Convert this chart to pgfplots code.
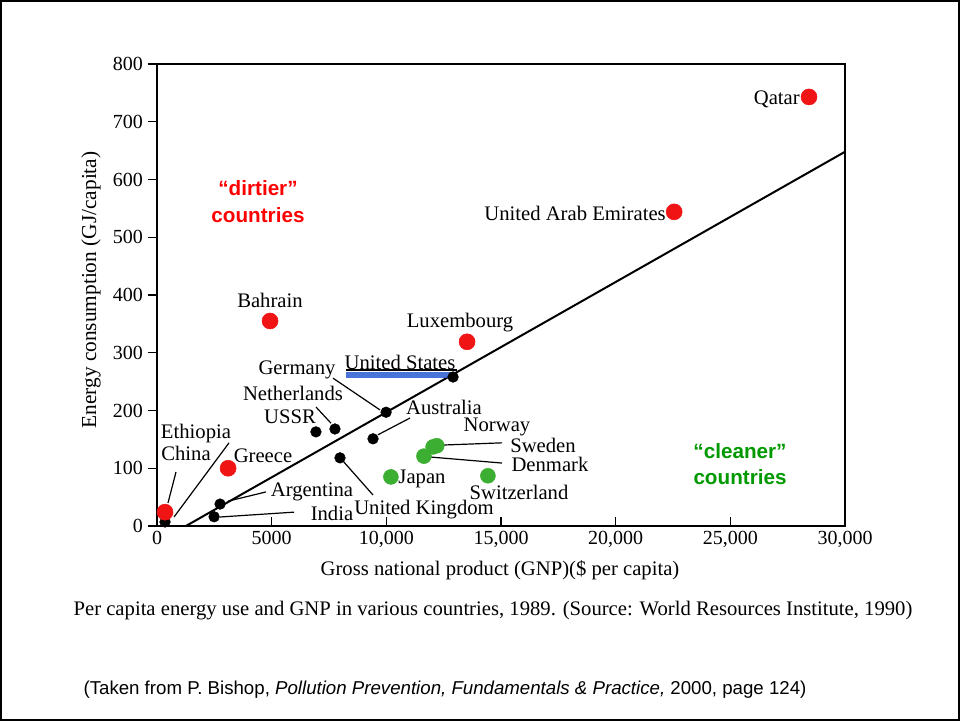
\documentclass[border=0pt]{standalone}
\usepackage{pgfplots}
\pgfplotsset{compat=1.18}
\usepackage{fontspec}
\setmainfont{Liberation Serif}
\newfontfamily\arial{Liberation Sans}
\definecolor{dotred}{RGB}{240,20,20}
\definecolor{dotgreen}{RGB}{60,175,50}
\definecolor{txtred}{RGB}{255,0,0}
\definecolor{txtgreen}{RGB}{0,153,0}
\definecolor{hlblue}{RGB}{40,90,210}
\begin{document}
\begin{tikzpicture}[
  lbl/.style={font=\fontsize{15.5}{17}\selectfont, inner sep=0pt},
  lead/.style={line width=0.9pt},
]
\useasboundingbox (0,0) rectangle (720pt,-540.75pt);
\draw[line width=1.6pt] (0.8pt,-0.8pt) rectangle (719.2pt,-539.95pt);
\begin{axis}[
  at={(117.75pt,-394.5pt)}, anchor=south west,
  scale only axis, width=516pt, height=346.5pt,
  xmin=0, xmax=30000, ymin=0, ymax=800,
  xtick={0,5000,...,30000},
  xticklabels={0,5000,{10,000},{15,000},{20,000},{25,000},{30,000}},
  scaled x ticks=false,
  ytick={0,100,...,800},
  xtick pos=bottom, ytick pos=left,
  xtick align=inside, ytick align=outside,
  major tick length=7pt,
  axis line style={line width=1.1pt},
  tick style={line width=0.8pt, black},
  tick label style={font=\fontsize{15}{17}\selectfont},
  /pgf/number format/assume math mode=true,
  clip=false,
]
% fitted line
\addplot[line width=1.5pt, black] coordinates {(1260,0) (30000,648)};
% black: near the line
\addplot[only marks, mark=*, mark size=4pt, mark options={fill=black, draw=black}]
  coordinates {(350,7) (12910,258) (9990,197) (9420,151) (7760,168) (6930,163) (7980,118) (2750,38) (2490,16)};
% red: dirtier
\addplot[only marks, mark=*, mark size=6pt, mark options={fill=dotred, draw=dotred}]
  coordinates {(28430,743) (22550,544) (13520,319) (4930,355) (3100,100) (350,24)};
% green: cleaner
\addplot[only marks, mark=*, mark size=5.6pt, mark options={fill=dotgreen, draw=dotgreen}]
  coordinates {(12200,139) (12040,137) (11640,121) (10200,85) (14430,87)};

% United States highlight
\draw[hlblue, opacity=0.85, line width=4.5pt] (axis cs:8241,261.5) -- (axis cs:12863,261.5);
\draw[line width=1pt] (axis cs:8241,270) -- (axis cs:13082,270);

% leader lines
\draw[lead] (axis cs:828,93.5) -- (axis cs:480,40);
\draw[lead] (axis cs:3140,144) -- (axis cs:741,15.6);
\draw[lead] (axis cs:3096,43) -- (axis cs:4753,59);
\draw[lead] (axis cs:2747,15.6) -- (axis cs:5974,24);
\draw[lead] (axis cs:7674,256) -- (axis cs:9724,201);
\draw[lead] (axis cs:6933,206) -- (axis cs:7587,178);
\draw[lead] (axis cs:9637,158) -- (axis cs:11032,187);
\draw[lead] (axis cs:8111,112.5) -- (axis cs:9419,53.7);
\draw[lead] (axis cs:12340,140) -- (axis cs:15044,144);
\draw[lead] (axis cs:11904,119.5) -- (axis cs:15044,109);

% country labels
\node[lbl, anchor=east] at (axis cs:28038,739) {Qatar};
\node[lbl, anchor=east] at (axis cs:22195,542) {United Arab Emirates};
\node[lbl] at (axis cs:13212,351.5) {Luxembourg};
\node[lbl] at (axis cs:4927,391) {Bahrain};
\node[lbl] at (axis cs:10596,284) {United States};
\node[lbl] at (axis cs:6105,270) {Germany};
\node[lbl] at (axis cs:5930,230) {Netherlands};
\node[lbl] at (axis cs:5800,190) {USSR};
\node[lbl] at (axis cs:1700,161) {Ethiopia};
\node[lbl] at (axis cs:1265,126) {China};
\node[lbl] at (axis cs:4622,121) {Greece};
\node[lbl] at (axis cs:6759,59) {Argentina};
\node[lbl] at (axis cs:7631,21) {India};
\node[lbl] at (axis cs:12515,206) {Australia};
\node[lbl] at (axis cs:14826,171) {Norway};
\node[lbl] at (axis cs:16831,140) {Sweden};
\node[lbl] at (axis cs:17137,107) {Denmark};
\node[lbl] at (axis cs:11555,81) {Japan};
\node[lbl] at (axis cs:15785,58) {Switzerland};
\node[lbl] at (axis cs:11643,29) {United Kingdom};

% region labels
\node[align=center, text=txtred, font=\arial\bfseries\fontsize{15.5}{20}\selectfont]
  at (axis cs:4404,562) {“dirtier”\\countries};
\node[align=center, text=txtgreen, font=\arial\bfseries\fontsize{15.5}{20}\selectfont]
  at (axis cs:25422,107) {“cleaner”\\countries};
\end{axis}

\node[font=\fontsize{15.5}{17}\selectfont] at (375pt,-427.5pt) {Gross national product (GNP)(\$ per capita)};
\node[rotate=90, font=\fontsize{16}{18}\selectfont] at (68.25pt,-217.5pt) {Energy consumption (GJ/capita)};
\node[font=\fontsize{15.5}{17}\selectfont] at (369.75pt,-458.25pt) {Per capita energy use and GNP in various countries, 1989. (Source: World Resources Institute, 1990)};
\node[font=\arial\fontsize{14}{16}\selectfont] at (333.75pt,-517.5pt) {(Taken from P. Bishop, \textit{Pollution Prevention, Fundamentals \& Practice,} 2000, page 124)};
\end{tikzpicture}
\end{document}
